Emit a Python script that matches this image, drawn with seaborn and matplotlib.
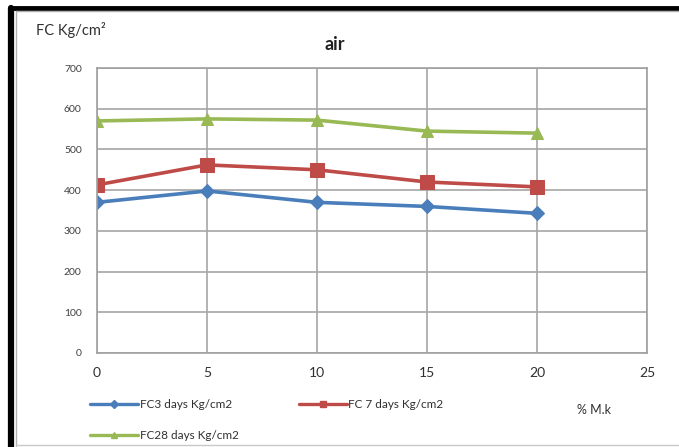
import matplotlib
matplotlib.use("Agg")
import matplotlib.pyplot as plt
import seaborn as sns
import pandas as pd
from matplotlib.lines import Line2D

sns.set_theme(style="white")
plt.rcParams['font.family'] = ['Lato', 'DejaVu Sans']

mk = [0, 5, 10, 15, 20]
fc3 = [370, 398, 370, 360, 343]
fc7 = [413, 462, 450, 420, 408]
fc28 = [570, 575, 572, 545, 540]
series_names = ["FC3 days Kg/cm2", "FC 7 days Kg/cm2", "FC28 days Kg/cm2"]
colors = ["#4a7ebb", "#be4b48", "#98b954"]
markers = ["D", "s", "^"]
msizes = [7, 10, 9]

df = pd.DataFrame({
    "mk": mk * 3,
    "fc": fc3 + fc7 + fc28,
    "series": [series_names[0]] * 5 + [series_names[1]] * 5 + [series_names[2]] * 5,
})

fig = plt.figure(figsize=(6.79, 4.47), dpi=100)
fig.patch.set_facecolor("white")
ax = fig.add_axes([97/679, 1-353/447, (647-97)/679, (353-68)/447])

for name, c, m, s in zip(series_names, colors, markers, msizes):
    sub = df[df["series"] == name]
    sns.lineplot(data=sub, x="mk", y="fc", ax=ax, color=c, marker=m,
                 markersize=s, linewidth=2.6, markeredgecolor=c, legend=False)

ax.set_xlim(0, 25)
ax.set_ylim(0, 700)
ax.set_xticks([0, 5, 10, 15, 20, 25])
ax.set_yticks(range(0, 701, 100))
ax.grid(True, color="#a6a6a6", linewidth=1.2)
for sp in ax.spines.values():
    sp.set_color("#a0a0a0")
    sp.set_linewidth(1.2)
ax.tick_params(axis="y", labelsize=7.5, colors="#404040", pad=11, length=0)
ax.tick_params(axis="x", labelsize=10, colors="#303030", pad=10, length=0)
ax.set_xlabel("")
ax.set_ylabel("")

fig.text(36/679, 1-30/447, "FC Kg/cm²", fontsize=10.5, color="#303030", va="center", ha="left")
fig.text(335/679, 1-45/447, "air", fontsize=13, fontweight="bold", color="#202020", va="center", ha="center")
fig.text(594/679, 1-410/447, "% M.k", fontsize=9, color="#303030", va="center", ha="center")

order = [0, 2, 1]
handles = [Line2D([0], [0], color=colors[i], marker=markers[i], markersize=4, linewidth=2.4)
           for i in order]
labels = [series_names[i] for i in order]
leg = fig.legend(handles, labels, loc="upper left", ncol=2,
                 bbox_to_anchor=(90/679, 1-399/447), frameon=False,
                 fontsize=8.5, handlelength=4.1, columnspacing=5.1,
                 labelspacing=1.7, handletextpad=0.1, borderpad=0, borderaxespad=0)
for t in leg.get_texts():
    t.set_color("#303030")

# outer black frame
fig.add_artist(Line2D([12/679, 1], [1-8/447, 1-8/447], color="black", linewidth=3.5, transform=fig.transFigure))
fig.add_artist(Line2D([11/679, 11/679], [0, 1-8/447], color="black", linewidth=4.5, transform=fig.transFigure))
fig.add_artist(Line2D([16/679, 16/679], [0, 1-11/447], color="#b0b0b0", linewidth=1, transform=fig.transFigure))
fig.add_artist(Line2D([16/679, 1], [1-11/447, 1-11/447], color="#b0b0b0", linewidth=1, transform=fig.transFigure))
fig.add_artist(Line2D([16/679, 1], [2/447, 2/447], color="#c8c8c8", linewidth=1, transform=fig.transFigure))

fig.savefig("out.png", dpi=100)
